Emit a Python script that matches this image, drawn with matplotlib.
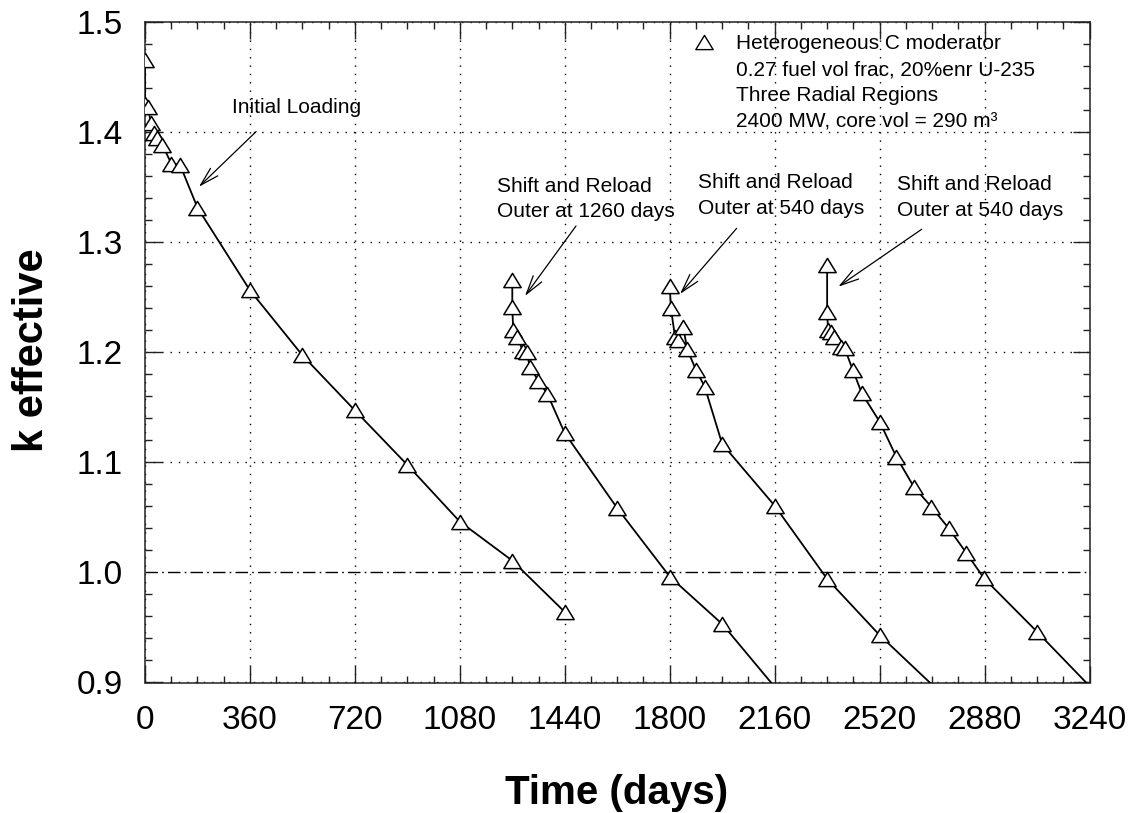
import matplotlib
matplotlib.use("Agg")
import matplotlib.pyplot as plt
from matplotlib.path import Path
from matplotlib.ticker import MultipleLocator, FormatStrFormatter

plt.rcParams['font.family'] = ['Liberation Sans', 'DejaVu Sans']

# k-effective versus time (days) for the initial core and three shift-and-reload cycles
t_initial = [0, 0, 10, 20, 30, 40, 60, 90, 120, 180, 360, 540, 720, 900, 1080, 1260, 1440]
k_initial = [1.465, 1.425, 1.4225, 1.408, 1.399, 1.394, 1.388, 1.371, 1.370, 1.331,
             1.256, 1.197, 1.147, 1.0975, 1.046, 1.0106, 0.964]

t_reload1 = [1260, 1260, 1263, 1277, 1296, 1309, 1320, 1349, 1380, 1440, 1620, 1800, 1980, 2160]
k_reload1 = [1.2654, 1.2412, 1.220, 1.2134, 1.2012, 1.2003, 1.1867, 1.174, 1.162, 1.1263,
             1.0582, 0.9961, 0.9531, 0.896]

t_reload2 = [1800, 1804, 1818, 1829, 1846, 1860, 1890, 1920, 1980, 2160, 2340, 2520, 2700]
k_reload2 = [1.2602, 1.2397, 1.214, 1.211, 1.223, 1.2025, 1.1837, 1.1685, 1.1165, 1.0605,
             0.994, 0.943, 0.898]

t_reload3 = [2340, 2340, 2343, 2352, 2365, 2388, 2400, 2428, 2459, 2520, 2577, 2637, 2697,
             2757, 2817, 2878, 3060, 3240]
k_reload3 = [1.279, 1.2366, 1.220, 1.2185, 1.214, 1.2049, 1.2034, 1.1837, 1.1625, 1.1368,
             1.105, 1.0778, 1.0596, 1.040, 1.0178, 0.9946, 0.9461, 0.8968]

series = [(t_initial, k_initial), (t_reload1, k_reload1),
          (t_reload2, k_reload2), (t_reload3, k_reload3)]

x_ticks = [0, 360, 720, 1080, 1440, 1800, 2160, 2520, 2880, 3240]
y_ticks = [0.9, 1.0, 1.1, 1.2, 1.3, 1.4, 1.5]
k_critical = 1.0

legend_lines = ["Heterogeneous C moderator",
                "0.27 fuel vol frac, 20%enr U-235",
                "Three Radial Regions",
                "2400 MW, core vol = 290 m\u00b3"]

# open triangle, a little wider than tall
tri = Path([(-1.0, -0.82), (1.0, -0.82), (0.0, 0.82), (0.0, 0.0)], closed=True)

fig = plt.figure(figsize=(11.35, 8.13), dpi=100)
ax = fig.add_axes([145 / 1135, 1 - 682.5 / 813, 944.5 / 1135, 661 / 813])

for t, k in series:
    visible = [v >= y_ticks[0] for v in k]
    ax.plot(t, k, color='black', lw=1.3, marker=tri, markersize=12.5,
            markerfacecolor='white', markeredgecolor='black', markeredgewidth=1.1,
            markevery=visible, zorder=3)

ax.set_xlim(x_ticks[0], x_ticks[-1])
ax.set_ylim(y_ticks[0], y_ticks[-1])
ax.set_xticks(x_ticks)
ax.set_yticks(y_ticks)
ax.xaxis.set_minor_locator(MultipleLocator(90))
ax.yaxis.set_minor_locator(MultipleLocator(0.02))
ax.xaxis.set_major_formatter(FormatStrFormatter('%d'))
ax.yaxis.set_major_formatter(FormatStrFormatter('%.1f'))

ax.tick_params(which='both', direction='in', top=True, right=True, color='#222222')
ax.tick_params(which='major', length=12, width=1.0)
ax.tick_params(which='minor', length=5, width=1.0)
ax.tick_params(axis='x', labelsize=24, pad=16)
ax.tick_params(axis='y', labelsize=24, pad=16)
for s in ax.spines.values():
    s.set_linewidth(1.1)
    s.set_color('#222222')

ax.set_axisbelow(True)
ax.grid(which='major', color='black', linestyle=(0, (1, 5)), linewidth=1.0)
# criticality line k = 1
ax.axhline(k_critical, color='white', lw=2.5, zorder=0.8)
ax.axhline(k_critical, color='black', lw=1.0, linestyle=(0, (9, 3, 1.2, 3)), zorder=0.9)

# legend block
ax.plot([1916], [1.4815], linestyle='none', marker=tri, markersize=12.5,
        markerfacecolor='white', markeredgecolor='black', markeredgewidth=1.0)
for i, line in enumerate(legend_lines):
    ax.text(2027, 1.4749 - i * 0.02355, line, fontsize=15, va='baseline', ha='left')

arrow = dict(arrowstyle='->,head_length=0.9,head_width=0.25', lw=0.9, color='black',
             shrinkA=0, shrinkB=0, mutation_scale=15)

ax.text(297, 1.4167, "Initial Loading", fontsize=15, va='baseline', ha='left')
ax.annotate('', xy=(185, 1.350), xytext=(381, 1.400), arrowprops=arrow)

notes = [(1206, 1.3456, "Outer at 1260 days", (1303.6, 1.2509), (1478.5, 1.3144)),
         (1896, 1.3485, "Outer at 540 days", (1835.3, 1.2527), (2029.7, 1.3123)),
         (2579, 1.3471, "Outer at 540 days", (2378.3, 1.2593), (2664.4, 1.3114))]
for x0, y0, second, tip, tail in notes:
    ax.text(x0, y0, "Shift and Reload", fontsize=15, va='baseline', ha='left')
    ax.text(x0, y0 - 0.0232, second, fontsize=15, va='baseline', ha='left')
    ax.annotate('', xy=tip, xytext=tail, arrowprops=arrow)

fig.text(617 / 1135, 9 / 813, "Time (days)", fontsize=29, fontweight='bold',
         ha='center', va='baseline')
fig.text(43 / 1135, 1 - 350 / 813, "k effective", fontsize=30, fontweight='bold',
         rotation=90, rotation_mode='anchor', ha='center', va='baseline')

fig.savefig("out.png", dpi=100)
